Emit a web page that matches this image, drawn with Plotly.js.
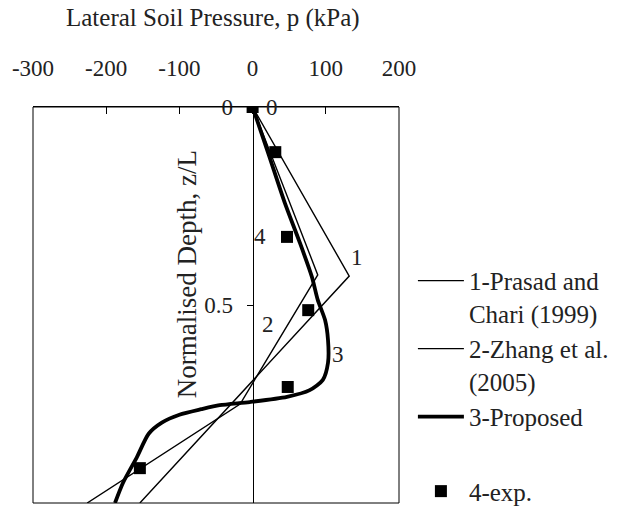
<!DOCTYPE html>
<html>
<head>
<meta charset="utf-8">
<script src="https://cdn.plot.ly/plotly-3.0.1.min.js"></script>
<style>
  html, body { margin: 0; padding: 0; background: #fff; }
  #chart { width: 624px; height: 510px; }
</style>
</head>
<body>
<div id="chart"></div>
<script>
// Lateral soil pressure p (kPa) against normalised depth z/L

// 1 - Prasad and Chari (1999)
const prasadP = [0, 132, -154];
const prasadZ = [0, 0.427, 1.0];

// 2 - Zhang et al. (2005)
const zhangP = [0, 89, -17, -226];
const zhangZ = [0, 0.424, 0.75, 1.0];

// 3 - Proposed
const proposedP = [0, 22, 44, 64, 81, 89, 99, 103, 103, 96, 78, 47, -4, -45, -70, -100, -124, -142, -158, -177, -188];
const proposedZ = [0, 0.12, 0.242, 0.34, 0.429, 0.487, 0.538, 0.588, 0.646, 0.689, 0.715, 0.732, 0.745, 0.753, 0.763, 0.777, 0.797, 0.825, 0.884, 0.949, 1.0];

// 4 - experimental
const expP = [0, 31, 47, 76, 48, -154];
const expZ = [0, 0.114, 0.328, 0.513, 0.707, 0.912];

// axis ticks
const xTicks = [-300, -200, -100, 0, 100, 200];
const xTickText = ['-300', '-200', '-100', '0', '100', '200'];
const yTicks = [0, 0.5];
const yTickText = ['0', '0.5'];

// curve number labels
const tagText = ['0', '1', '2', '3', '4'];
const tagP = [27, 143, 21, 117, 10];
const tagZ = [0, 0.379, 0.55, 0.626, 0.328];

const serif = 'Liberation Serif, Times New Roman, serif';

const traces = [
  { x: prasadP, y: prasadZ, mode: 'lines', name: '1-Prasad and<br>Chari (1999)',
    line: { color: '#000', width: 1.4 }, legendgroup: 'a' },
  { x: zhangP, y: zhangZ, mode: 'lines', name: '2-Zhang et al.<br>(2005)',
    line: { color: '#000', width: 1.4 }, legendgroup: 'a' },
  { x: proposedP, y: proposedZ, mode: 'lines', name: '3-Proposed',
    line: { color: '#000', width: 3.8, shape: 'spline', smoothing: 0.7 }, legendgroup: 'a' },
  { x: expP, y: expZ, mode: 'markers', name: '4-exp.',
    marker: { symbol: 'square', size: 12, color: '#000' }, legendgroup: 'b' }
];

const annotations = tagText.map((t, i) => ({
  x: tagP[i], y: tagZ[i], xref: 'x', yref: 'y', text: t, showarrow: false,
  xanchor: 'center', yanchor: 'middle',
  font: { family: serif, size: 23, color: '#222' }
}));

annotations.push({
  x: 0.492, y: 1.225, xref: 'paper', yref: 'paper', showarrow: false,
  xanchor: 'center', yanchor: 'middle',
  text: 'Lateral Soil Pressure, p (kPa)',
  font: { family: serif, size: 25, color: '#222' }
});
annotations.push({
  x: 0.421, y: 0.578, xref: 'paper', yref: 'paper', showarrow: false,
  xanchor: 'center', yanchor: 'middle',
  text: 'Normalised Depth, z/L', textangle: -90,
  font: { family: serif, size: 27, color: '#222' }
});

const layout = {
  width: 624, height: 510,
  margin: { l: 33, r: 225, t: 107, b: 7, autoexpand: false },
  paper_bgcolor: '#fff', plot_bgcolor: '#fff',
  showlegend: true,
  legend: {
    x: 1.038, y: 0.619, xanchor: 'left', yanchor: 'top',
    font: { family: serif, size: 25, color: '#222' },
    valign: 'top', tracegroupgap: 39, traceorder: 'grouped',
    itemwidth: 46,
    bgcolor: 'rgba(0,0,0,0)'
  },
  xaxis: {
    range: [-300, 200], side: 'top', tickvals: xTicks, ticktext: xTickText,
    ticks: 'inside', ticklen: 7, tickcolor: '#000',
    showline: true, linecolor: '#000', linewidth: 1,
    showgrid: false, zeroline: false, automargin: false,
    ticklabelstandoff: 21,
    tickfont: { family: serif, size: 23, color: '#222' }
  },
  yaxis: {
    range: [1, 0], anchor: 'free', position: 0.6,
    tickvals: yTicks, ticktext: yTickText,
    ticks: 'outside', ticklen: 6, tickcolor: '#000',
    showline: true, linecolor: '#000', linewidth: 1,
    showgrid: false, zeroline: false, automargin: false,
    ticklabelstandoff: 9,
    tickfont: { family: serif, size: 23, color: '#222' }
  },
  shapes: [{
    type: 'rect', xref: 'paper', yref: 'paper', x0: 0, x1: 1, y0: 0, y1: 1,
    line: { color: '#000', width: 1 }
  }],
  annotations: annotations
};

Plotly.newPlot('chart', traces, layout, { staticPlot: true });
</script>
</body>
</html>
